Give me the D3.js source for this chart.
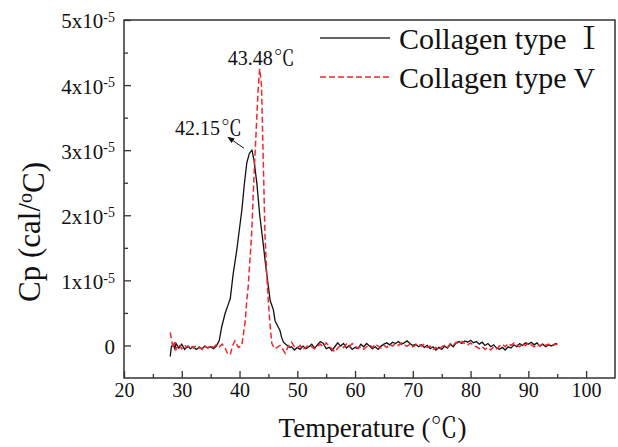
<!DOCTYPE html>
<html>
<head>
  <meta charset="utf-8">
  <title>DSC collagen</title>
  <script src="https://d3js.org/d3.v7.min.js"></script>
  <style>
    body { margin: 0; background: #fff; }
  </style>
</head>
<body>
<script>
// x ticks / y ticks (y in units of 1e-5 cal/oC)
var xTicks = [20, 30, 40, 50, 60, 70, 80, 90, 100];
var xMinor = [25, 35, 45, 55, 65, 75, 85, 95];
var yTicks = [0, 1, 2, 3, 4, 5];
var yMinor = [0.5, 1.5, 2.5, 3.5, 4.5];

var seriesNames = ["Collagen type ", "Collagen type V"];
var seriesSuffix = ["\u2160", ""];

// Collagen type I : [temperature, Cp]
var collagenI = [
  [28.0,-0.17],[28.2,-0.02],[28.5,0.02],[28.8,-0.05],[29.0,0.03],[29.5,-0.04],[30.0,0.02],
  [30.5,-0.06],[31.0,-0.01],[31.5,-0.05],[32.0,-0.02],[32.5,-0.06],[33.0,-0.03],[33.5,-0.05],
  [34.0,-0.01],[34.5,-0.04],[35.0,-0.02],[35.5,-0.05],[36.0,-0.01],[36.5,0.08],[36.9,0.28],
  [37.5,0.49],[38.0,0.62],[38.4,0.72],[38.9,1.1],[39.5,1.45],[40.0,1.8],[40.4,2.08],
  [40.8,2.45],[41.25,2.8],[41.7,2.95],[42.15,3.0],[42.5,2.85],[43.0,2.49],[43.5,2.0],
  [44.1,1.56],[44.5,1.25],[45.0,0.9],[45.3,0.69],[45.85,0.55],[46.15,0.38],[46.6,0.3],
  [47.0,0.23],[47.3,0.12],[47.6,0.05],[48.0,0.02],[48.7,-0.03],[49.0,-0.02],[49.5,-0.07],
  [50.0,-0.03],[50.5,-0.06],[51.0,-0.01],[51.5,-0.05],[52.0,-0.02],[52.5,0.02],[53.0,-0.04],
  [53.5,0.01],[54.0,0.06],[54.5,0.03],[55.0,-0.05],[55.5,-0.03],[56.0,-0.08],[56.5,-0.02],
  [57.0,0.04],[57.5,-0.01],[58.0,0.03],[58.5,-0.04],[59.0,0.0],[59.5,-0.06],[60.0,-0.03],
  [60.5,-0.05],[61.0,0.02],[61.5,-0.02],[62.0,0.03],[62.5,-0.01],[63.0,-0.05],[63.5,-0.02],
  [64.0,-0.06],[64.5,-0.01],[65.0,0.02],[65.5,0.04],[66.0,0.01],[66.5,0.05],[67.0,0.03],
  [67.5,0.06],[68.0,0.02],[68.5,0.04],[69.0,0.07],[69.5,0.03],[70.0,0.0],[70.5,0.02],
  [71.0,-0.02],[71.5,0.01],[72.0,-0.03],[72.5,0.0],[73.0,-0.05],[73.5,-0.02],[74.0,-0.07],
  [74.5,-0.03],[75.0,-0.06],[75.5,-0.01],[76.0,-0.04],[76.5,0.02],[77.0,-0.02],[77.5,0.04],
  [78.0,0.06],[78.5,0.03],[79.0,0.07],[79.5,0.05],[80.0,0.08],[80.5,0.04],[81.0,0.06],
  [81.5,0.02],[82.0,0.05],[82.5,0.0],[83.0,0.03],[83.5,-0.02],[84.0,0.01],[84.5,-0.04],
  [85.0,-0.06],[85.5,-0.03],[86.0,-0.07],[86.5,-0.02],[87.0,-0.04],[87.5,0.01],[88.0,-0.02],
  [88.5,0.03],[89.0,0.0],[89.5,0.04],[90.0,0.02],[90.5,0.05],[91.0,0.01],[91.5,0.04],
  [92.0,-0.01],[92.5,0.02],[93.0,-0.02],[93.5,0.01],[94.0,-0.01],[94.5,0.02],[95.0,0.03]
];

// Collagen type V : [temperature, Cp]
var collagenV = [
  [28.0,0.2],[28.2,0.1],[28.5,-0.04],[28.8,0.05],[29.0,-0.06],[29.5,0.02],[30.0,-0.05],
  [30.5,0.0],[31.0,-0.03],[31.5,0.01],[32.0,-0.04],[32.5,0.0],[33.0,-0.02],[33.5,-0.06],
  [34.0,-0.01],[34.5,-0.04],[35.0,0.0],[35.5,-0.03],[36.0,0.01],[36.5,-0.02],[37.0,0.02],
  [37.5,-0.04],[37.9,-0.12],[38.4,-0.14],[38.8,0.0],[39.2,0.07],[39.8,-0.03],[40.4,0.0],
  [41.0,0.38],[41.25,0.69],[41.5,0.9],[42.1,1.72],[42.5,2.6],[42.86,3.26],[43.2,3.9],
  [43.48,4.25],[43.8,4.0],[44.0,3.26],[44.4,1.72],[44.7,1.1],[45.0,0.65],[45.3,0.3],
  [45.6,0.03],[46.1,-0.05],[46.5,-0.03],[47.0,0.0],[47.5,-0.06],[47.9,-0.12],[48.4,-0.02],
  [49.0,0.05],[49.5,-0.02],[50.0,-0.04],[50.5,0.0],[51.0,-0.06],[51.5,-0.03],[52.0,0.01],
  [52.5,-0.02],[53.0,-0.05],[53.5,-0.01],[54.0,0.02],[54.5,-0.02],[55.0,0.04],[55.5,-0.01],
  [56.0,-0.05],[56.5,-0.1],[57.0,-0.04],[57.5,0.0],[58.0,-0.03],[58.5,0.02],[59.0,-0.02],
  [59.5,0.03],[60.0,-0.01],[60.5,-0.04],[61.0,-0.02],[61.5,-0.06],[62.0,-0.02],[62.5,0.01],
  [63.0,-0.03],[63.5,0.02],[64.0,-0.01],[64.5,-0.04],[65.0,0.0],[65.5,-0.03],[66.0,0.02],
  [66.5,-0.01],[67.0,0.03],[67.5,0.0],[68.0,0.04],[68.5,0.01],[69.0,-0.01],[69.5,0.02],
  [70.0,-0.02],[70.5,0.01],[71.0,0.03],[71.5,-0.01],[72.0,0.02],[72.5,-0.03],[73.0,-0.01],
  [73.5,-0.06],[74.0,-0.03],[74.5,-0.07],[75.0,-0.02],[75.5,0.0],[76.0,-0.03],[76.5,0.03],
  [77.0,0.0],[77.5,0.05],[78.0,0.02],[78.5,0.06],[79.0,0.03],[79.5,0.01],[80.0,0.04],
  [80.5,0.0],[81.0,-0.02],[81.5,-0.05],[82.0,-0.02],[82.5,-0.06],[83.0,-0.03],[83.5,-0.07],
  [84.0,-0.02],[84.5,-0.05],[85.0,-0.01],[85.5,0.02],[86.0,-0.02],[86.5,0.03],[87.0,0.0],
  [87.5,0.04],[88.0,0.01],[88.5,-0.02],[89.0,0.03],[89.5,0.0],[90.0,0.04],[90.5,0.01],
  [91.0,-0.02],[91.5,0.02],[92.0,-0.01],[92.5,0.03],[93.0,0.0],[93.5,0.02],[94.0,-0.01],
  [94.5,0.01],[95.0,0.02]
];

// peak labels
var peaks = [
  { t: 42.15, cp: 3.0, label: "42.15" },
  { t: 43.48, cp: 4.25, label: "43.48" }
];

// 単一のフォント名で指定する
var SERIF = "'Liberation Serif'";
var CJK = "'Noto Serif CJK SC'";
var INK = "#111";

var W = 618, H = 447;
var margin = { top: 20, right: 3, bottom: 69, left: 124 },
    width = W - margin.left - margin.right,
    height = H - margin.top - margin.bottom;

var svg = d3.select("body").append("svg")
    .attr("width", W)
    .attr("height", H);

var g = svg.append("g")
    .attr("transform", "translate(" + margin.left + "," + margin.top + ")");

var x = d3.scaleLinear().domain([20, 105]).range([0, width]);
var y = d3.scaleLinear().domain([-0.5, 5]).range([height, 0]);

// x軸
var xAxis = g.append("g")
    .attr("transform", "translate(0," + height + ")")
    .call(d3.axisBottom(x).tickValues(xTicks).tickSize(-7).tickSizeOuter(0).tickPadding(5));
xAxis.selectAll("text")
    .style("font-family", SERIF).style("font-size", "20px").attr("fill", INK);

g.append("g")
    .attr("transform", "translate(0," + height + ")")
    .call(d3.axisBottom(x).tickValues(xMinor).tickSize(-4).tickFormat(""));

// y軸（上付きの指数）
var yAxis = g.append("g")
    .call(d3.axisLeft(y).tickValues(yTicks).tickSize(-7).tickSizeOuter(0).tickPadding(9));
yAxis.selectAll("text").each(function(d) {
  var t = d3.select(this).text("").attr("dy", "0.38em").attr("fill", INK)
      .style("font-family", SERIF).style("font-size", "21px");
  if (d === 0) { t.text("0"); return; }
  t.append("tspan").text(d + "x10");
  t.append("tspan").attr("dy", "-0.45em").style("font-size", "14px").text("-5");
});

g.append("g")
    .call(d3.axisLeft(y).tickValues(yMinor).tickSize(-4).tickFormat(""));

g.selectAll(".domain").remove();
g.selectAll(".tick line").attr("stroke", "#333").attr("stroke-width", 1.3);

// 枠
g.append("rect")
    .attr("width", width)
    .attr("height", height)
    .attr("fill", "none")
    .attr("stroke", "#333")
    .attr("stroke-width", 1.5);

// 曲線
var line = d3.line()
    .x(function(d) { return x(d[0]); })
    .y(function(d) { return y(d[1]); });

g.append("path")
    .datum(collagenI)
    .attr("d", line)
    .attr("fill", "none")
    .attr("stroke", INK)
    .attr("stroke-width", 1.3);

g.append("path")
    .datum(collagenV)
    .attr("d", line)
    .attr("fill", "none")
    .attr("stroke", "#f0282d")
    .attr("stroke-width", 1.5)
    .attr("stroke-dasharray", "6,3");

// ピーク注釈
svg.append("defs").append("marker")
    .attr("id", "arrow")
    .attr("viewBox", "0 0 10 10")
    .attr("refX", 9).attr("refY", 5)
    .attr("markerWidth", 7).attr("markerHeight", 7)
    .attr("orient", "auto")
  .append("path")
    .attr("d", "M0,1 L10,5 L0,9 Z")
    .attr("fill", INK);

g.append("line")
    .attr("x1", x(peaks[0].t) - 8).attr("y1", y(peaks[0].cp) - 2)
    .attr("x2", x(peaks[0].t) - 24).attr("y2", y(peaks[0].cp) - 13)
    .attr("stroke", INK)
    .attr("stroke-width", 1)
    .attr("marker-end", "url(#arrow)");

function degLabel(sel) {
  sel.append("tspan").text(function(d) { return d.label; });
  sel.append("tspan").attr("dx", 1).style("font-family", CJK).style("font-size", "21px").text("\u2103");
}

g.append("text").datum(peaks[0])
    .attr("x", x(peaks[0].t) - 77).attr("y", y(peaks[0].cp) - 15)
    .attr("fill", INK)
    .style("font-family", SERIF).style("font-size", "20px")
    .call(degLabel);

g.append("text").datum(peaks[1])
    .attr("x", x(peaks[1].t) - 32).attr("y", y(peaks[1].cp) - 4)
    .attr("fill", INK)
    .style("font-family", SERIF).style("font-size", "20px")
    .call(degLabel);

// 凡例
var legend = g.selectAll(".legend")
    .data(seriesNames)
  .enter().append("g")
    .attr("transform", function(d, i) { return "translate(" + (320 - margin.left) + "," + (38 - margin.top + i * 39) + ")"; });

legend.append("line")
    .attr("x1", 0).attr("x2", 70)
    .attr("stroke", function(d, i) { return i === 0 ? "#333" : "#f0282d"; })
    .attr("stroke-width", function(d, i) { return i === 0 ? 1.3 : 1.5; })
    .attr("stroke-dasharray", function(d, i) { return i === 0 ? null : "6,3"; });

var legendText = legend.append("text")
    .attr("x", 79).attr("y", 11)
    .attr("fill", INK)
    .style("font-family", SERIF).style("font-size", "30px");
legendText.append("tspan").text(function(d) { return d; });
legendText.append("tspan")
    .style("font-family", CJK)
    .text(function(d, i) { return seriesSuffix[i]; });

// 軸タイトル
var xt = svg.append("text")
    .attr("x", margin.left + width / 2 + 3)
    .attr("y", 437)
    .attr("text-anchor", "middle")
    .attr("fill", INK)
    .style("font-family", SERIF).style("font-size", "27px");
xt.append("tspan").text("Temperature (");
xt.append("tspan").style("font-family", CJK).text("\u2103");
xt.append("tspan").text(")");

var yt = svg.append("text")
    .attr("transform", "translate(40,232) rotate(-90)")
    .attr("text-anchor", "middle")
    .attr("fill", INK)
    .style("font-family", SERIF).style("font-size", "31px");
yt.append("tspan").text("Cp (cal/");
yt.append("tspan").attr("dy", "-0.4em").style("font-size", "20px").text("o");
yt.append("tspan").attr("dy", "0.4em").text("C)");
</script>
</body>
</html>
